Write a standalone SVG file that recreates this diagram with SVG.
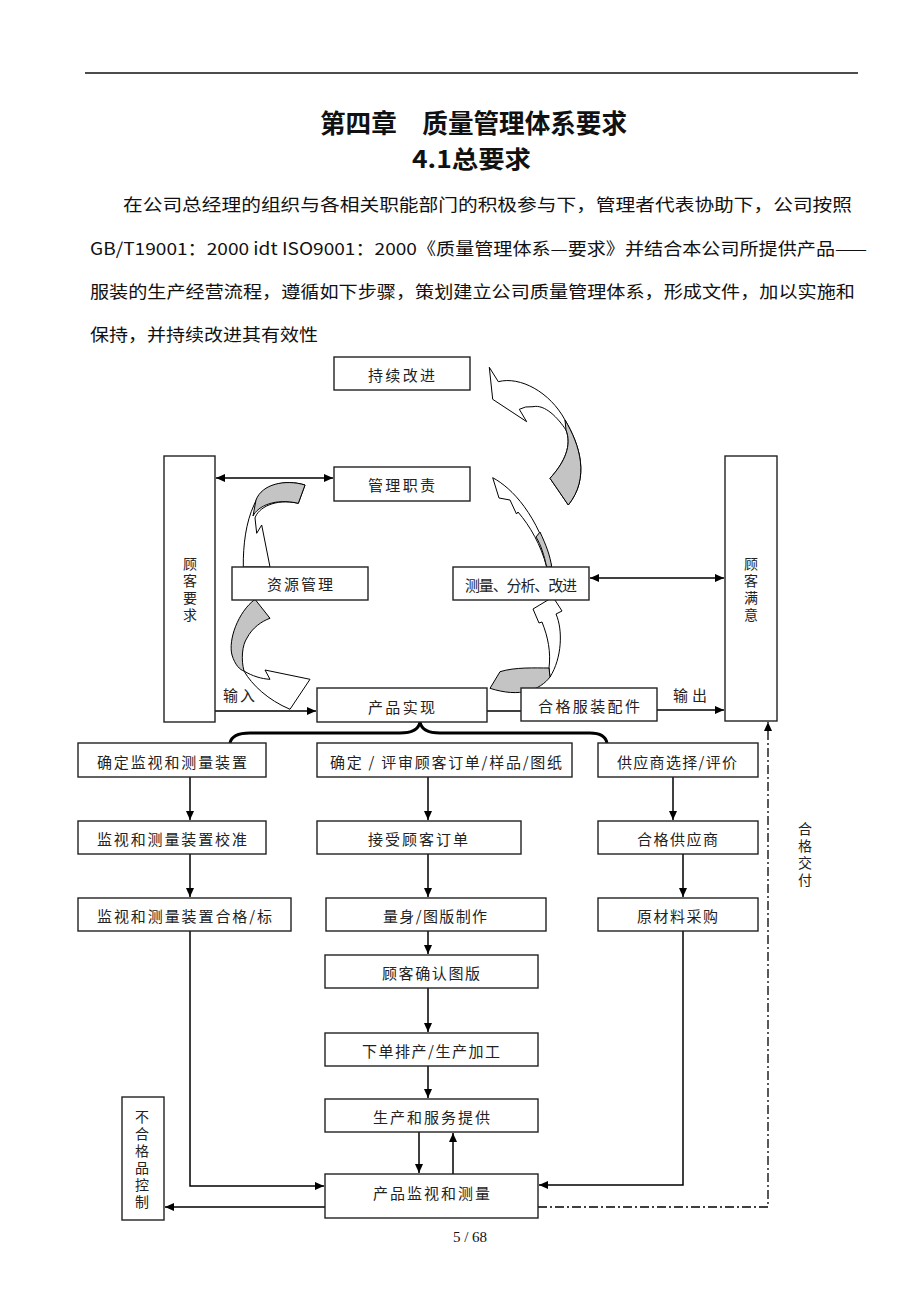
<svg xmlns="http://www.w3.org/2000/svg" width="920" height="1302" viewBox="0 0 920 1302">
<defs>
<marker id="ah" viewBox="0 0 10 10" refX="10" refY="5" markerWidth="9" markerHeight="8" markerUnits="userSpaceOnUse" orient="auto-start-reverse" preserveAspectRatio="none"><path d="M0,0 L10,5 L0,10 z" fill="#000"/></marker>
<style>
.b{fill:#fff;stroke:#222;stroke-width:1.4}
.t{font-family:"Noto Sans CJK SC","Noto Sans",sans-serif;font-size:15px;fill:#222;dominant-baseline:central}
.p{font-family:"Noto Sans CJK SC","Noto Sans",sans-serif;font-size:17px;fill:#111;dominant-baseline:central}
.v{font-family:"Noto Sans CJK SC",sans-serif;font-size:14px;fill:#222;writing-mode:vertical-rl;text-orientation:upright;letter-spacing:3px}
.c{fill:none;stroke:#000;stroke-width:1.5}
.cw{fill:#fff;stroke:#000;stroke-width:1}
.cg{fill:#c4c4c4;stroke:#000;stroke-width:1}
</style>
</defs>
<rect width="920" height="1302" fill="#fff"/>
<line x1="85" y1="73" x2="858" y2="73" stroke="#111" stroke-width="1.5"/>
<text x="320" y="121" font-family="Noto Sans CJK SC,sans-serif" font-size="26" font-weight="700" fill="#111" dominant-baseline="central" textLength="307" lengthAdjust="spacingAndGlyphs">第四章　质量管理体系要求</text>
<text x="412" y="157" font-family="Noto Sans CJK SC,sans-serif" font-size="24" font-weight="700" fill="#111" dominant-baseline="central" textLength="119" lengthAdjust="spacingAndGlyphs">4.1总要求</text>
<text class="p" x="123" y="203" textLength="729" lengthAdjust="spacingAndGlyphs">在公司总经理的组织与各相关职能部门的积极参与下，管理者代表协助下，公司按照</text>
<text class="p" x="90" y="247" textLength="777" lengthAdjust="spacingAndGlyphs">GB/T19001：2000 idt ISO9001：2000《质量管理体系—要求》并结合本公司所提供产品——</text>
<text class="p" x="90" y="290" textLength="765" lengthAdjust="spacingAndGlyphs">服装的生产经营流程，遵循如下步骤，策划建立公司质量管理体系，形成文件，加以实施和</text>
<text class="p" x="90" y="333" textLength="228" lengthAdjust="spacingAndGlyphs">保持，并持续改进其有效性</text>

<g id="curved-arrows">
<path class="cw" d="M489.3,367.3 L498.3,381.7 C520,376 550,392 565,420 C580,445 590,478 568.3,505 L550,478.3 C565,462 572,445 566,430 C558,418 545,404 533,406.7 Q525,406 519.3,409.3 L526.7,421.7 L492.7,399.3 Z"/>
<path class="cg" d="M565,420 C580,445 590,478 568.3,505 L550,478.3 C565,462 572,445 566,430 Z"/>
<path class="cw" d="M492.7,477.7 C512,488 538,515 551.7,567 L546.7,567 C541,545 530,526 518,512 L516.5,514 L510,500 L499,498 Z"/>
<path class="cg" d="M540,532 C546,545 550,555 551.7,567 L546.7,567 C544,555 541,545 536,537 Z"/>
<path class="cw" d="M305,485 C285,479 262,484 254,505 C246,522 243,545 243.3,567 L270,567 L261.7,525 L256.7,533.3 L255,518 C258,508 275,498 298.3,503.3 Z"/>
<path class="cg" d="M305,485 C285,479 262,484 256,500 L253,516 C258,506 275,498 298.3,503.3 Z"/>
<path class="cw" d="M244,671 C252,685 268,700 290,709.3 L310,679.3 L265,670 L270,679.3 C262,679 252,676 244,671 Z"/>
<path class="cg" d="M255,599.3 C238,612 228,640 232,655 C235,665 240,670 244,671 C241,660 242,645 247,638 C252,628 262,621 270,618.3 Z"/>
<path class="cw" d="M553,597 L533,609 L539,623 L542,622 C548,637 551,652 549,668 L550,677 C562,658 563,630 556,614 L562,611 Z"/>
<path class="cg" d="M549,668 L550,677 C540,690 520,698 490,688.3 L500,671.7 C515,667 535,668 549,668 Z"/>
</g>

<g id="connectors">
<line class="c" x1="216" y1="478" x2="333" y2="478" marker-start="url(#ah)" marker-end="url(#ah)"/>
<line class="c" x1="590" y1="578" x2="724" y2="578" marker-start="url(#ah)" marker-end="url(#ah)"/>
<line class="c" x1="215" y1="711" x2="316" y2="711" marker-end="url(#ah)"/>
<line class="c" x1="487" y1="711" x2="521" y2="711"/>
<line class="c" x1="657" y1="710" x2="724" y2="710" marker-end="url(#ah)"/>
<path d="M230,743 Q232,733 250,733 L400,733 Q418,733 420,722 Q422,733 440,733 L590,733 Q605,733 607,743" fill="none" stroke="#000" stroke-width="3"/>
<line class="c" x1="190" y1="777" x2="190" y2="820" marker-end="url(#ah)"/>
<line class="c" x1="190" y1="854" x2="190" y2="897" marker-end="url(#ah)"/>
<line class="c" x1="428" y1="777" x2="428" y2="820" marker-end="url(#ah)"/>
<line class="c" x1="428" y1="854" x2="428" y2="897" marker-end="url(#ah)"/>
<line class="c" x1="428" y1="931" x2="428" y2="954" marker-end="url(#ah)"/>
<line class="c" x1="428" y1="988" x2="428" y2="1032" marker-end="url(#ah)"/>
<line class="c" x1="428" y1="1066" x2="428" y2="1098" marker-end="url(#ah)"/>
<line class="c" x1="673" y1="777" x2="673" y2="820" marker-end="url(#ah)"/>
<line class="c" x1="683" y1="854" x2="683" y2="897" marker-end="url(#ah)"/>
<polyline class="c" points="190,931 190,1186 324,1186" marker-end="url(#ah)"/>
<polyline class="c" points="683,931 683,1185 539,1185" marker-end="url(#ah)"/>
<line class="c" x1="419" y1="1132" x2="419" y2="1173" marker-end="url(#ah)"/>
<line class="c" x1="453" y1="1174" x2="453" y2="1133" marker-end="url(#ah)"/>
<line class="c" x1="325" y1="1207" x2="165" y2="1207" marker-end="url(#ah)"/>
<polyline points="538,1207 768,1207 768,722" fill="none" stroke="#000" stroke-width="1.3" stroke-dasharray="9 3 2 3" marker-end="url(#ah)"/>
</g>

<g id="n-chixu"><rect class="b" x="334" y="357" width="136" height="33"/><text class="t" x="368" y="374" textLength="67">持续改进</text></g>
<g id="n-guanli"><rect class="b" x="334" y="467" width="136" height="34"/><text class="t" x="368" y="484" textLength="67">管理职责</text></g>
<g id="n-guke-yaoqiu"><rect class="b" x="164" y="456" width="51" height="266"/><text class="v" x="190" y="557">顾客要求</text></g>
<g id="n-guke-manyi"><rect class="b" x="725" y="456" width="52" height="265"/><text class="v" x="751" y="557">顾客满意</text></g>
<g id="n-ziyuan"><rect class="b" x="232" y="567" width="136" height="33"/><text class="t" x="267" y="583" textLength="66">资源管理</text></g>
<g id="n-celiang"><rect class="b" x="453" y="567" width="136" height="33"/><text class="t" x="465" y="584" font-size="13" textLength="112">测量、分析、改进</text></g>
<g id="n-chanpin"><rect class="b" x="317" y="688" width="170" height="34"/><text class="t" x="368" y="706" textLength="67">产品实现</text></g>
<g id="n-hege-fuzhuang"><rect class="b" x="521" y="688" width="136" height="33"/><text class="t" x="538" y="705" textLength="102">合格服装配件</text></g>
<g id="lbl-io"><text class="t" x="223" y="694" font-size="14" textLength="32">输入</text><text class="t" x="673" y="694" font-size="14" textLength="34">输出</text></g>
<g id="n-queding-jianshi"><rect class="b" x="78" y="743" width="188" height="34"/><text class="t" x="97" y="761" textLength="150">确定监视和测量装置</text></g>
<g id="n-queding-pingshen"><rect class="b" x="317" y="743" width="255" height="34"/><text class="t" x="330" y="761" textLength="232">确定 / 评审顾客订单/样品/图纸</text></g>
<g id="n-gongyingshang"><rect class="b" x="598" y="743" width="160" height="34"/><text class="t" x="617" y="761" textLength="120">供应商选择/评价</text></g>
<g id="n-jiaozhun"><rect class="b" x="78" y="821" width="188" height="33"/><text class="t" x="97" y="838" textLength="150">监视和测量装置校准</text></g>
<g id="n-jieshou"><rect class="b" x="317" y="821" width="204" height="33"/><text class="t" x="368" y="838" textLength="100">接受顾客订单</text></g>
<g id="n-hege-gys"><rect class="b" x="598" y="821" width="160" height="33"/><text class="t" x="637" y="838" textLength="81">合格供应商</text></g>
<g id="n-hege-biao"><rect class="b" x="78" y="898" width="213" height="33"/><text class="t" x="97" y="915" textLength="175">监视和测量装置合格/标</text></g>
<g id="n-liangshen"><rect class="b" x="326" y="898" width="220" height="33"/><text class="t" x="383" y="915" textLength="104">量身/图版制作</text></g>
<g id="n-yuancailiao"><rect class="b" x="598" y="898" width="160" height="33"/><text class="t" x="637" y="915" textLength="81">原材料采购</text></g>
<g id="n-queren"><rect class="b" x="325" y="955" width="213" height="33"/><text class="t" x="382" y="972" textLength="98">顾客确认图版</text></g>
<g id="n-xiadan"><rect class="b" x="325" y="1033" width="213" height="33"/><text class="t" x="362" y="1050" textLength="138">下单排产/生产加工</text></g>
<g id="n-shengchan"><rect class="b" x="325" y="1099" width="213" height="33"/><text class="t" x="373" y="1116" textLength="117">生产和服务提供</text></g>
<g id="n-jiance"><rect class="b" x="325" y="1174" width="213" height="44"/><text class="t" x="373" y="1192" textLength="117">产品监视和测量</text></g>
<g id="n-buhege"><rect class="b" x="122" y="1097" width="42" height="123"/><text class="v" x="142" y="1110">不合格品控制</text></g>
<g id="lbl-jiaofu"><text class="v" x="805" y="822">合格交付</text></g>
<text x="470" y="1237" font-family="Liberation Serif,serif" font-size="15" fill="#111" text-anchor="middle" dominant-baseline="central">5  / 68</text>
</svg>
